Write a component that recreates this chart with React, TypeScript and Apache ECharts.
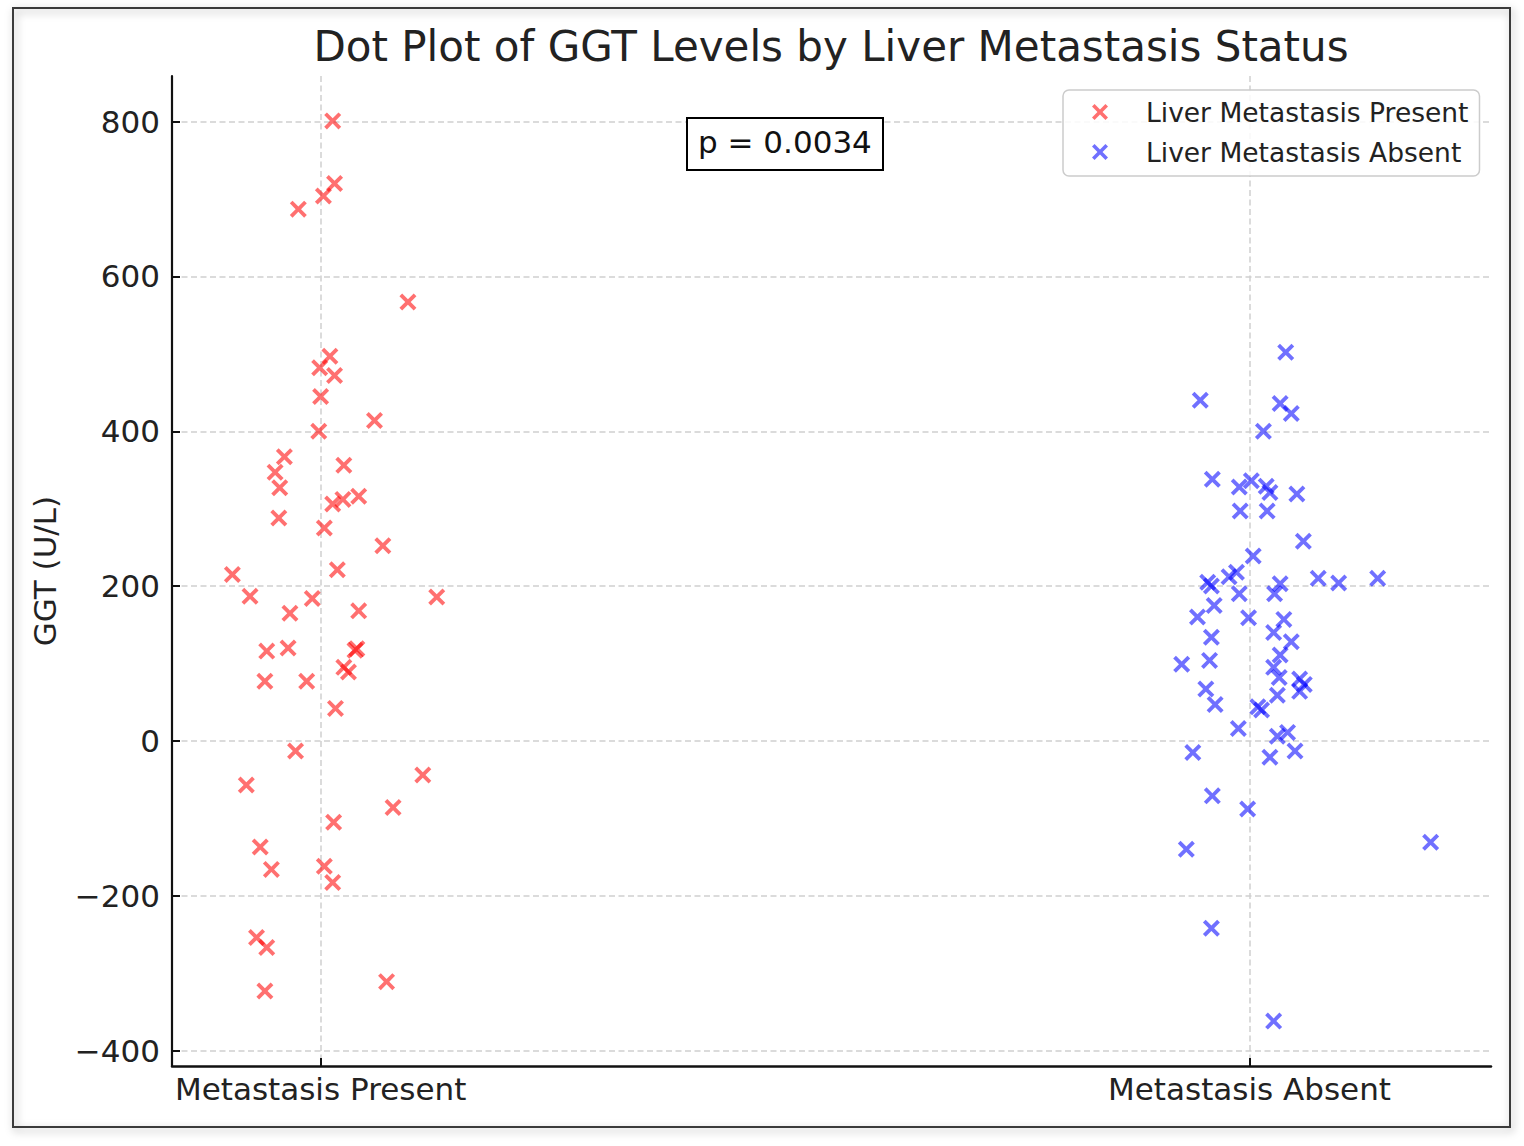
import React, { useEffect, useRef } from "react";
import * as echarts from "echarts";

// ---- Data ----
const categories = ["Metastasis Present", "Metastasis Absent"];
const seriesNames = ["Liver Metastasis Present", "Liver Metastasis Absent"];
const yTicks = [-400, -200, 0, 200, 400, 600, 800];
const pValueText = "p = 0.0034";

// jittered x positions (category 0 = Present)
const presentX = [
  0.013, 0.015, 0.003, -0.024, 0.094, 0.01, -0.001, 0.015, 0.0, 0.058,
  -0.002, -0.039, -0.049, -0.044, 0.025, -0.045, 0.013, 0.024, 0.041, 0.004,
  0.067, 0.018, -0.095, -0.076, -0.009, 0.125, -0.033, 0.041, -0.058, -0.035,
  0.039, 0.037, 0.025, 0.03, -0.06, -0.015, 0.016, -0.027, -0.08, 0.11,
  0.078, 0.014, -0.065, -0.053, 0.004, 0.013, -0.069, -0.058, 0.071, -0.06,
];
const presentGGT = [
  801, 720, 704, 687, 567, 497, 482, 472, 445, 414,
  400, 367, 347, 327, 356, 288, 306, 312, 316, 275,
  252, 221, 215, 187, 184, 186, 165, 168, 116, 120,
  119, 117, 95, 89, 77, 77, 42, -13, -57, -44,
  -86, -105, -137, -166, -162, -183, -254, -267, -311, -323,
];

// jittered x positions (category 1 = Absent)
const absentX = [
  1.039, 0.947, 1.033, 1.045, 1.015, 0.96, 0.989, 1.002, 1.018, 1.022,
  1.051, 0.99, 1.019, 1.058, 1.004, 0.986, 0.978, 0.955, 0.959, 0.989,
  1.033, 1.027, 1.074, 1.096, 1.138, 0.962, 0.944, 0.999, 1.037, 1.026,
  0.959, 1.045, 1.033, 0.957, 0.927, 1.026, 1.032, 1.054, 1.059, 1.054,
  1.03, 0.953, 0.963, 1.009, 1.013, 0.988, 1.03, 1.041, 0.939, 1.022,
  1.049, 0.96, 0.998, 0.932, 1.195, 0.959, 1.026,
];
const absentGGT = [
  502, 440, 436, 423, 400, 338, 328, 336, 329, 321,
  319, 297, 297, 258, 239, 218, 212, 205, 200, 190,
  203, 190, 210, 204, 210, 175, 160, 159, 157, 140,
  134, 128, 111, 104, 99, 95, 82, 80, 73, 64,
  59, 67, 47, 44, 40, 16, 6, 11, -15, -21,
  -13, -71, -88, -140, -131, -242, -362,
];

const FONT = "DejaVu Sans";
const X_MARK =
  "path://M0,16 L16,0 L50,34 L84,0 L100,16 L66,50 L100,84 L84,100 L50,66 L16,100 L0,84 L34,50 Z";
const RED = "rgba(255,0,0,0.7)";
const BLUE = "rgba(0,0,255,0.7)";

export default function App() {
  const ref = useRef<HTMLDivElement>(null);

  useEffect(() => {
    document.body.style.margin = "0";
    if (!ref.current) return;
    const chart = echarts.init(ref.current, null, { renderer: "svg" });

    const presentData = presentX.map((x, i) => [x, presentGGT[i]]);
    const absentData = absentX.map((x, i) => [x, absentGGT[i]]);

    const gridLine = {
      show: true,
      lineStyle: { color: "#cfcfcf", width: 1.5, type: [6, 3.5] },
    };

    chart.setOption({
      animation: false,
      backgroundColor: "#ffffff",
      title: [
        {
          text: "Dot Plot of GGT Levels by Liver Metastasis Status",
          left: 831,
          top: 22,
          textAlign: "center",
          padding: 0,
          textStyle: {
            fontFamily: FONT,
            fontSize: 42,
            fontWeight: "normal",
            color: "#222",
            lineHeight: 48,
          },
        },
        {
          text: pValueText,
          left: 687,
          top: 118,
          padding: [7, 11, 11, 11],
          borderColor: "#000",
          borderWidth: 2,
          backgroundColor: "#fff",
          textStyle: {
            fontFamily: FONT,
            fontSize: 31,
            fontWeight: "normal",
            color: "#111",
            lineHeight: 34,
          },
        },
      ],
      legend: {
        orient: "vertical",
        left: 1063,
        top: 90,
        padding: [7, 11, 9, 29],
        itemGap: 10,
        itemWidth: 16,
        itemHeight: 16,
        borderColor: "#cccccc",
        borderWidth: 1.5,
        borderRadius: 6,
        backgroundColor: "rgba(255,255,255,0.85)",
        textStyle: {
          fontFamily: FONT,
          fontSize: 26.5,
          color: "#222",
          padding: [0, 0, 0, 33],
          lineHeight: 30,
        },
        data: [
          { name: seriesNames[0], icon: X_MARK },
          { name: seriesNames[1], icon: X_MARK },
        ],
      },
      grid: {
        left: 172,
        right: 33,
        top: 76,
        bottom: 80,
        containLabel: false,
      },
      xAxis: {
        type: "value",
        min: -0.16,
        max: 1.26,
        axisLine: { show: true, onZero: false, lineStyle: { color: "#111", width: 2.5 } },
        axisTick: {
          show: true,
          inside: true,
          length: 8,
          lineStyle: { color: "#111", width: 2 },
          customValues: [0, 1],
        },
        axisLabel: {
          show: true,
          customValues: [0, 1],
          margin: 7,
          fontFamily: FONT,
          fontSize: 31,
          color: "#222",
          formatter: (v: number) => categories[Math.round(v)] ?? "",
        },
        splitLine: gridLine,
      },
      yAxis: {
        type: "value",
        min: -420,
        max: 859,
        name: "GGT (U/L)",
        nameLocation: "middle",
        nameRotate: 90,
        nameGap: 112,
        nameTextStyle: { fontFamily: FONT, fontSize: 31, color: "#222" },
        axisLine: { show: true, onZero: false, lineStyle: { color: "#111", width: 2.2 } },
        axisTick: {
          show: true,
          inside: true,
          length: 8,
          lineStyle: { color: "#111", width: 2 },
          customValues: yTicks,
        },
        axisLabel: {
          show: true,
          customValues: yTicks,
          margin: 12,
          fontFamily: FONT,
          fontSize: 31,
          color: "#222",
          formatter: (v: number) => String(v).replace("-", "\u2212"),
        },
        splitLine: gridLine,
      },
      graphic: [
        {
          type: "rect",
          shape: { x: 13, y: 8, width: 1497, height: 1119 },
          style: {
            fill: "none",
            stroke: "#3a3a3a",
            lineWidth: 2,
            shadowBlur: 8,
            shadowOffsetX: 2,
            shadowOffsetY: 3,
            shadowColor: "rgba(0,0,0,0.35)",
          },
          silent: true,
          z: 100,
        },
      ],
      series: [
        {
          name: seriesNames[0],
          type: "scatter",
          symbol: X_MARK,
          symbolSize: 17,
          itemStyle: { color: RED },
          data: presentData,
          z: 3,
        },
        {
          name: seriesNames[1],
          type: "scatter",
          symbol: X_MARK,
          symbolSize: 17,
          itemStyle: { color: BLUE },
          data: absentData,
          z: 3,
        },
      ],
    });

    return () => chart.dispose();
  }, []);

  return <div ref={ref} style={{ width: 1524, height: 1146 }} />;
}
